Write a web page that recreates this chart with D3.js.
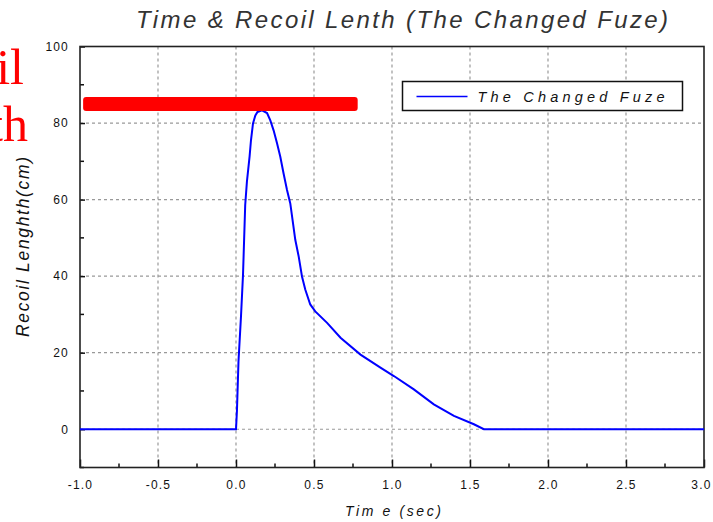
<!DOCTYPE html>
<html lang="en">
<head>
<meta charset="UTF-8">
<title>Time & Recoil Lenth</title>
<script src="https://d3js.org/d3.v7.min.js"></script>
<style>
  body { margin: 0; background: #fff; overflow: hidden; }
  svg { display: block; }
  .tick text { font-family: 'Liberation Sans', Arial, sans-serif; font-size: 12px; fill: #111; letter-spacing: 1.2px; }
</style>
</head>
<body>
<script>
  // curve: time (sec) and recoil length (cm)
  const timeSec = [-1.0, 0.0, 0.006, 0.016, 0.032, 0.045, 0.053, 0.059, 0.070, 0.087, 0.096, 0.109, 0.124, 0.138, 0.167,
    0.199, 0.220, 0.241, 0.263, 0.284, 0.305, 0.327, 0.348, 0.380, 0.402, 0.423, 0.444, 0.476, 0.508,
    0.584, 0.670, 0.798, 0.926, 1.012, 1.140, 1.268, 1.397, 1.525, 1.589, 3.0];
  const recoilCm = [0, 0, 4.8, 17.8, 29.5, 40.4, 50.8, 58.6, 64.7, 71.2, 75.5, 79.9, 82.0, 82.9, 83.3,
    82.6, 80.7, 78.1, 74.7, 71.2, 66.8, 62.5, 59.0, 49.5, 45.1, 39.9, 36.5, 32.6, 30.8,
    27.8, 23.9, 19.5, 16.1, 13.9, 10.4, 6.5, 3.5, 1.3, 0, 0];

  const xTicks = [-1.0, -0.5, 0.0, 0.5, 1.0, 1.5, 2.0, 2.5, 3.0];
  const yTicks = [0, 20, 40, 60, 80, 100];
  const xMinor = [-0.75, -0.25, 0.25, 0.75, 1.25, 1.75, 2.25, 2.75];
  const yMinor = [-10, 10, 30, 50, 70, 90];

  // red highlight bar laid over the chart (time range, level)
  const barTime = [-0.98, 0.78];
  const barLevel = 85;

  const width = 713, height = 522;
  const margin = { left: 80, right: 9, top: 46.5, bottom: 54.5 };
  const iw = width - margin.left - margin.right;
  const ih = height - margin.top - margin.bottom;

  const svg = d3.select("body").append("svg")
      .attr("width", width)
      .attr("height", height);

  const x = d3.scaleLinear().domain([-1, 3]).range([0, iw]);
  const y = d3.scaleLinear().domain([-10, 100]).range([ih, 0]);

  const g = svg.append("g").attr("transform", `translate(${margin.left},${margin.top})`);

  // grid
  g.append("g").selectAll("line").data(xTicks.slice(1, -1)).enter().append("line")
      .attr("x1", d => x(d)).attr("x2", d => x(d))
      .attr("y1", 0).attr("y2", ih)
      .attr("stroke", "#999").attr("stroke-width", 1.2).attr("stroke-dasharray", "3,3");
  g.append("g").selectAll("line").data(yTicks.filter(d => d < 100)).enter().append("line")
      .attr("x1", 0).attr("x2", iw)
      .attr("y1", d => y(d)).attr("y2", d => y(d))
      .attr("stroke", "#999").attr("stroke-width", 1.2).attr("stroke-dasharray", "3,3");

  // axes
  const xAxis = g.append("g").attr("transform", `translate(0,${ih})`)
      .call(d3.axisBottom(x).tickValues(xTicks).tickFormat(d => d.toFixed(1)).tickSizeInner(-8).tickSizeOuter(0).tickPadding(14));
  const yAxis = g.append("g")
      .call(d3.axisLeft(y).tickValues(yTicks).tickFormat(d => String(d)).tickSizeInner(-5).tickSizeOuter(0).tickPadding(11));
  [xAxis, yAxis].forEach(a => {
    a.select(".domain").remove();
    a.selectAll(".tick line").attr("stroke", "#111").attr("stroke-width", 1.5);
  });
  xAxis.selectAll(".tick text").attr("dy", "0.6em");
  xAxis.selectAll(".tick text").filter(d => d === 3).attr("dx", "-3");

  g.append("g").selectAll("line").data(xMinor).enter().append("line")
      .attr("x1", d => x(d)).attr("x2", d => x(d))
      .attr("y1", ih).attr("y2", ih - 4)
      .attr("stroke", "#111").attr("stroke-width", 1.5);
  g.append("g").selectAll("line").data(yMinor).enter().append("line")
      .attr("x1", 0).attr("x2", 4)
      .attr("y1", d => y(d)).attr("y2", d => y(d))
      .attr("stroke", "#111").attr("stroke-width", 1.5);

  // frame
  g.append("rect")
      .attr("width", iw).attr("height", ih)
      .attr("fill", "none").attr("stroke", "#222").attr("stroke-width", 1.6);

  // curve
  const pts = timeSec.map((t, i) => [t, recoilCm[i]]);
  g.append("path")
      .datum(pts)
      .attr("fill", "none")
      .attr("stroke", "#0000ff")
      .attr("stroke-width", 2)
      .attr("d", d3.line().x(d => x(d[0])).y(d => y(d[1])));

  // legend
  const leg = g.append("g").attr("transform", "translate(322.5,35)");
  leg.append("rect").attr("width", 280).attr("height", 29)
      .attr("fill", "#fff").attr("stroke", "#111").attr("stroke-width", 1.5);
  leg.append("line").attr("x1", 14).attr("x2", 65).attr("y1", 15).attr("y2", 15)
      .attr("stroke", "#0000ff").attr("stroke-width", 1.5);
  leg.append("text").attr("x", 75).attr("y", 20)
      .attr("textLength", 187).attr("lengthAdjust", "spacing")
      .style("font-family", "'Liberation Sans', Arial, sans-serif").style("font-size", "14.5px")
      .style("font-style", "italic").attr("fill", "#111")
      .text("The Changed Fuze");

  // red highlight bar
  g.append("rect")
      .attr("x", x(barTime[0])).attr("width", x(barTime[1]) - x(barTime[0]))
      .attr("y", y(barLevel) - 7).attr("height", 14)
      .attr("rx", 3).attr("fill", "#ff0000");

  // titles
  svg.append("text").attr("x", 136).attr("y", 28)
      .attr("textLength", 532).attr("lengthAdjust", "spacing")
      .style("font-family", "'Liberation Sans', Arial, sans-serif").style("font-size", "24px")
      .style("font-style", "italic").attr("fill", "#333")
      .text("Time & Recoil Lenth (The Changed Fuze)");
  svg.append("text").attr("x", 345).attr("y", 516)
      .attr("textLength", 96).attr("lengthAdjust", "spacing")
      .style("font-family", "'Liberation Sans', Arial, sans-serif").style("font-size", "14px")
      .style("font-style", "italic").attr("fill", "#111")
      .text("Tim e (sec)");
  svg.append("text").attr("transform", "translate(29,337) rotate(-90)")
      .attr("textLength", 180).attr("lengthAdjust", "spacing")
      .style("font-family", "'Liberation Sans', Arial, sans-serif").style("font-size", "17.5px")
      .style("font-style", "italic").attr("fill", "#111")
      .text("Recoil Lenghth(cm)");

  // cut-off red side label, as in the source picture
  svg.append("text").attr("x", 24).attr("y", 84).attr("text-anchor", "end")
      .style("font-family", "'Liberation Serif', serif").style("font-size", "50px").attr("fill", "#ff0000")
      .text("Recoil");
  svg.append("text").attr("x", 28).attr("y", 141).attr("text-anchor", "end")
      .style("font-family", "'Liberation Serif', serif").style("font-size", "50px").attr("fill", "#ff0000")
      .text("Length");
</script>
</body>
</html>
